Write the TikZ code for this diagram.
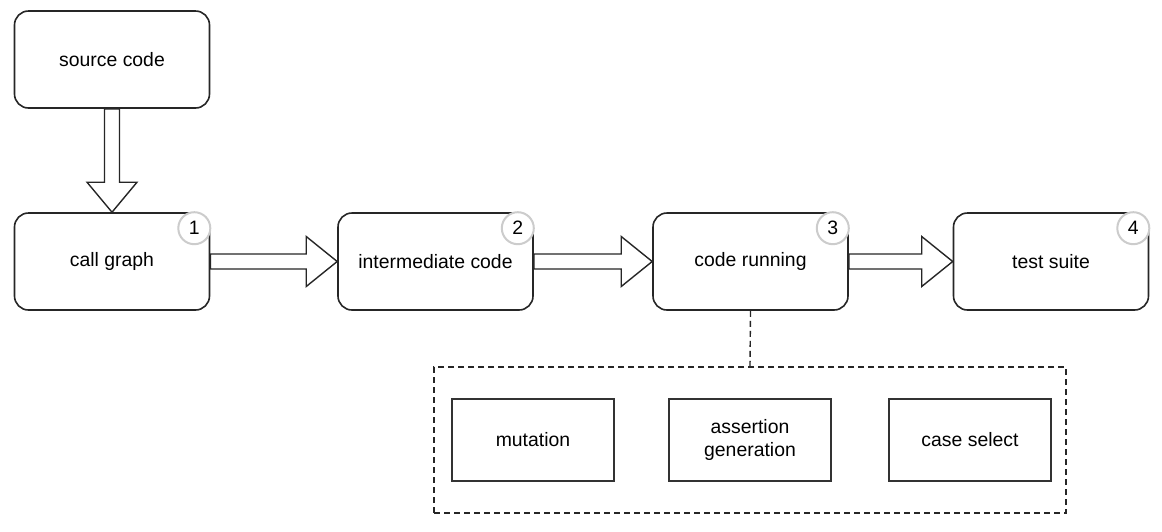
\documentclass[tikz,border=0pt]{standalone}
\usepackage{fontspec}
\setmainfont{Liberation Sans}
\usetikzlibrary{positioning,calc}
\definecolor{badgeclr}{HTML}{CCCCCC}

% hollow block arrows between two named nodes
\newcommand{\rightblock}[2]{%
  \draw[blockarr] ($(#1.east)+(0,-7.5)$) -- ($(#2.west)+(-31,-7.5)$) -- ($(#2.west)+(-31,-25)$)
    -- (#2.west) -- ($(#2.west)+(-31,25)$) -- ($(#2.west)+(-31,7.5)$) -- ($(#1.east)+(0,7.5)$) -- cycle;}
\newcommand{\downblock}[2]{%
  \draw[blockarr] ($(#1.south)+(-7.5,0)$) -- ($(#2.north)+(-7.5,-30)$) -- ($(#2.north)+(-25,-30)$)
    -- (#2.north) -- ($(#2.north)+(25,-30)$) -- ($(#2.north)+(7.5,-30)$) -- ($(#1.south)+(7.5,0)$) -- cycle;}

\begin{document}
\begin{tikzpicture}[x=0.5pt, y=-0.5pt,
    stage/.style={rounded corners=7pt, minimum width=97.5pt, minimum height=48.5pt,
                  draw=black!85, line width=0.8pt, fill=white, font=\fontsize{9.7}{11.6}\selectfont,
                  align=center},
    part/.style={minimum width=81pt, minimum height=41pt, draw=black!80, line width=0.8pt,
                 font=\fontsize{9.7}{11.6}\selectfont, align=center},
    badge/.style={circle, minimum size=16pt, inner sep=0pt, draw=badgeclr, line width=1pt,
                  fill=white, font=\fontsize{9.7}{11.6}\selectfont},
    groupbox/.style={draw=black!85, line width=0.7pt, dash pattern=on 3pt off 2pt,
                     minimum width=316pt, minimum height=73pt},
    blockarr/.style={draw=black!85, line width=0.7pt, fill=white},
    dashlink/.style={draw=black!85, line width=0.7pt, dash pattern=on 3pt off 2pt},
  ]
  \useasboundingbox (0,0) rectangle (1162,531);

  \node[stage] (src) at (112,59.5)   {source code};
  \node[stage] (cg)  at (112,261.5)  {call graph};
  \node[stage] (ic)  at (435.5,261.5) {intermediate code};
  \node[stage] (cr)  at (750.5,261.5) {code running};
  \node[stage] (ts)  at (1051,261.5) {test suite};

  \node[badge] at ($(cg.north east)+(-16,16)$) {1};
  \node[badge] at ($(ic.north east)+(-16,16)$) {2};
  \node[badge] at ($(cr.north east)+(-16,16)$) {3};
  \node[badge] at ($(ts.north east)+(-16,16)$) {4};

  \downblock{src}{cg}
  \rightblock{cg}{ic}
  \rightblock{ic}{cr}
  \rightblock{cr}{ts}

  % sub-steps of code running
  \node[groupbox] (grp) at (750,440) {};
  \node[part] (mut) at (533,440) {mutation};
  \node[part] (asg) at (750,440) {assertion\\generation};
  \node[part] (cs)  at (970,440) {case select};

  \draw[dashlink] (cr.south) -- (grp.north);
\end{tikzpicture}
\end{document}
